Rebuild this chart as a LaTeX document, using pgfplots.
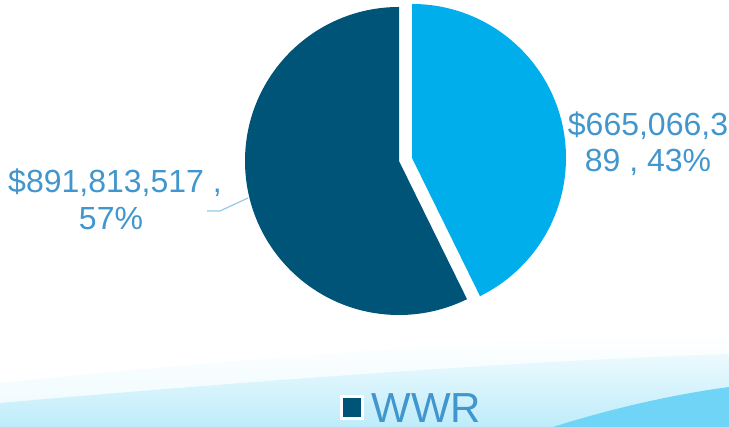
\documentclass[border=0pt]{standalone}
\usepackage{pgfplots}
\pgfplotsset{compat=1.18}
\usepackage{fontspec}
\setmainfont{Liberation Sans}
\definecolor{wwrdark}{RGB}{0,84,119}
\definecolor{wwrlight}{RGB}{0,174,236}
\definecolor{lbl}{RGB}{64,150,205}
\definecolor{leader}{RGB}{150,200,230}
\definecolor{bandA}{RGB}{236,250,254}
\definecolor{bandB}{RGB}{205,241,252}
\definecolor{bandB2}{RGB}{190,236,250}
\definecolor{bandC}{RGB}{112,212,246}

\begin{document}
\begin{tikzpicture}
% WWR values in $ millions
\pgfmathsetmacro{\va}{891.813517}
\pgfmathsetmacro{\vb}{665.066389}
\pgfmathsetmacro{\share}{\vb/(\va+\vb)}
\pgfmathsetmacro{\angb}{360*\share}
\begin{axis}[width=364.5pt, height=213.5pt, scale only axis, hide axis,
  xmin=0, xmax=729, ymin=0, ymax=427, clip=false]
% background swoosh
\shade[top color=white, bottom color=bandA] (axis cs:0,44) .. controls (axis cs:250,70) and (axis cs:520,89) .. (axis cs:729,96)
  -- (axis cs:729,0) -- (axis cs:0,0) -- cycle;
\shade[top color=bandA, bottom color=bandB2] (axis cs:0,24) .. controls (axis cs:250,46) and (axis cs:520,66) .. (axis cs:729,73)
  -- (axis cs:729,0) -- (axis cs:0,0) -- cycle;
\fill[bandC] (axis cs:553,0) .. controls (axis cs:610,18) and (axis cs:670,32) .. (axis cs:729,40)
  -- (axis cs:729,0) -- cycle;
% pie
\fill[wwrdark] (axis cs:399,266) -- ++(90:77pt)
  arc[start angle=90, end angle={450-\angb}, radius=77pt] -- cycle;
\fill[wwrlight] (axis cs:412,269) -- ++(90:77pt)
  arc[start angle=90, end angle={90-\angb}, radius=77pt] -- cycle;
% labels
\draw[leader, line width=0.6pt] (axis cs:207,216) -- (axis cs:220,216) -- (axis cs:248,229);
\begin{scope}[every node/.style={text=lbl, font=\fontsize{16}{19}\selectfont, inner sep=0pt}]
\node[anchor=base] at (axis cs:115,234) {\$891,813,517 ,};
\node[anchor=base] at (axis cs:111,197) {57\%};
\node[anchor=base] at (axis cs:648,291) {\$665,066,3};
\node[anchor=base] at (axis cs:648,255) {89 , 43\%};
\end{scope}
% legend
\filldraw[fill=wwrdark, draw=white, line width=1.5pt] (axis cs:341,8) rectangle (axis cs:362,30);
\node[anchor=base west, text=lbl, font=\fontsize{21}{24}\selectfont, inner sep=0pt] at (axis cs:371,4) {WWR};
\end{axis}
\pgfresetboundingbox
\useasboundingbox (current axis.south west) rectangle (current axis.north east);
\end{tikzpicture}
\end{document}
